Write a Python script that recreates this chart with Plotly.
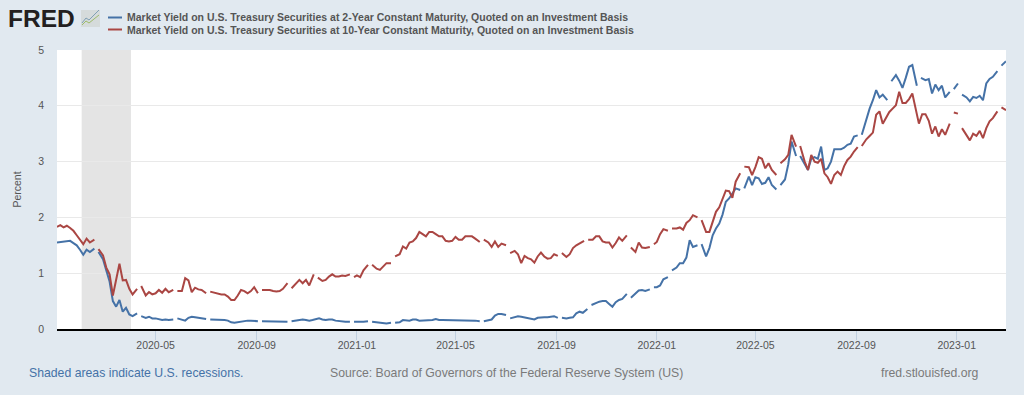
import pandas as pd
import plotly.graph_objects as go

N = None
BLOCK_STARTS = ["2020-01-02", "2020-05-01", "2020-09-01", "2021-01-01", "2021-05-01",
                "2021-09-01", "2022-01-01", "2022-05-01", "2022-09-01", "2023-01-01"]

Y2_2020A = [1.55,1.56,1.57,1.57,1.58,1.54,1.50,1.42,1.33,1.42,1.38,1.44,N,1.38,1.25,1.05,.85,.50,.40,.52,.31,.38,.26,.23,.28,N,.23,.20,.22,.19]
Y2_2020B = [.19,.17,.16,.17,.16,.17,N,.19,.16,.15,.20,.22,.21,.20,.19,.18,N,.17,.17,.17,.16,.16,.15,.12,.11,.12,.14,.15,.15,.15,.15]
Y2_2020C = [.14,N,.14,.14,.13,.13,.13,.13,.13,.13,N,.14,.15,.16,.17,.16,.15,.16,.17,.19,.17,.16,.17,.17,.15,.14,.13,.13,.13,N,.13]
Y2_2021A = [.13,.12,.13,.14,N,.13,.12,.11,.10,.10,.11,N,.11,.12,.16,.15,.15,.17,.17,.15,.15,.15,.15,.16,.18,.16,.16,.16,.15,.16]
Y2_2021B = [.16,.16,.16,.16,.15,.15,.15,.14,N,.14,.15,.17,.24,.27,.27,.25,N,.19,.22,.23,.22,.21,.19,.18,.17,.20,.21,.21,.21,.22,.23]
Y2_2021C = [.20,N,.20,.19,.20,.21,.28,.31,.29,.36,N,.43,.47,.49,.50,.50,.45,.40,.48,.52,.54,.63,N,.56,.63,.69,.70,.68,.71,N,.75]
Y2_2022A = [.75,.78,.89,.93,N,1.05,1.10,1.18,1.18,1.28,1.59,1.47,1.50,N,1.52,1.30,1.45,1.68,1.80,1.89,2.05,2.28,2.34,2.42,2.52,2.49,N,2.52,2.73,2.58]
Y2_2022B = [2.72,2.70,2.60,2.62,2.72,2.58,2.50,N,2.58,2.68,2.95,3.36,3.10,N,3.10,2.95,2.85,3.05,3.08,3.05,3.27,2.85,2.88,3.00,3.22,3.22,3.22,3.25,3.30,3.32,3.45]
Y2_2022C = [3.47,N,3.48,3.78,3.95,4.10,4.28,4.15,4.20,4.10,N,4.44,4.55,4.45,4.32,4.50,4.70,4.73,4.36,N,4.50,4.46,4.48,4.22,4.38,4.28,4.36,4.15,4.25,N,4.30]
Y2_2023A = [4.40,N,4.20,4.15,4.08,4.16,4.14,4.18,4.10,4.40,4.48,4.52,4.62,N,4.72,4.80]

Y10_2020A = [1.83,1.86,1.82,1.85,1.81,1.76,1.68,1.60,1.52,1.62,1.55,1.60,N,1.43,1.32,1.10,.98,.60,.90,1.17,.87,.88,.72,.62,.72,N,.77,.60,.66,.62]
Y10_2020B = [.64,.70,.65,.72,.66,.70,N,.68,.68,.91,.87,.66,.74,.71,.70,.64,N,.67,.65,.64,.62,.62,.58,.52,.52,.60,.70,.68,.64,.68,.75]
Y10_2020C = [.64,N,.70,.70,.70,.68,.67,.68,.72,.82,N,.73,.82,.88,.82,.88,.78,.98,N,.92,.86,.88,.94,.98,.94,.94,.96,.95,.98,N,.93]
Y10_2021A = [.96,.93,1.05,1.15,N,1.15,1.08,1.06,1.12,1.18,1.18,N,1.30,1.34,1.48,1.44,1.55,1.57,1.63,1.74,1.70,1.66,1.74,1.74,1.70,1.66,1.66,1.58,1.57,1.58]
Y10_2021B = [1.65,1.60,1.60,1.66,1.66,1.66,1.62,1.56,N,1.60,1.55,1.47,1.57,1.47,1.53,1.50,N,1.36,1.40,1.34,1.18,1.31,1.27,1.25,1.19,1.30,1.37,1.30,1.26,1.27,1.34]
Y10_2021C = [1.31,N,1.36,1.29,1.34,1.45,1.50,1.53,1.58,N,1.60,1.60,1.66,1.66,1.57,1.55,1.55,1.46,1.54,1.64,1.58,1.68,N,1.46,1.38,1.55,1.46,1.45,1.47,N,1.52]
Y10_2022A = [1.56,1.70,1.79,1.76,N,1.80,1.80,1.82,1.78,1.90,1.95,2.04,2.00,N,1.95,1.74,1.74,1.92,2.10,2.18,2.32,2.48,2.47,2.35,2.64,2.79,N,2.91,2.90,2.76]
Y10_2022B = [2.90,3.08,3.05,2.88,2.97,2.85,2.76,N,2.97,3.04,3.12,3.48,3.27,N,3.28,3.00,2.85,3.12,3.00,2.98,3.05,2.79,2.72,2.60,2.76,2.82,2.76,2.92,3.03,3.09,3.18]
Y10_2022C = [3.26,N,3.28,3.40,3.46,3.52,3.84,3.90,3.68,3.78,3.89,3.95,4.01,4.25,4.05,4.05,4.12,4.22,3.95,3.68,3.85,3.85,3.73,3.50,3.63,3.45,3.58,3.48,3.68,N,3.88]
Y10_2023A = [3.86,N,3.60,3.47,3.38,3.50,3.46,3.55,3.42,3.60,3.72,3.78,3.90,N,3.97,3.92]

Y2_BLOCKS = [Y2_2020A, Y2_2020B, Y2_2020C, Y2_2021A, Y2_2021B, Y2_2021C, Y2_2022A, Y2_2022B, Y2_2022C, Y2_2023A]
Y10_BLOCKS = [Y10_2020A, Y10_2020B, Y10_2020C, Y10_2021A, Y10_2021B, Y10_2021C, Y10_2022A, Y10_2022B, Y10_2022C, Y10_2023A]

NAME_2Y = "Market Yield on U.S. Treasury Securities at 2-Year Constant Maturity, Quoted on an Investment Basis"
NAME_10Y = "Market Yield on U.S. Treasury Securities at 10-Year Constant Maturity, Quoted on an Investment Basis"
RECESSION = ("2020-02-01", "2020-04-01")
X_RANGE = ("2020-01-02", "2023-03-02")


def expand(blocks):
    """Lay each block out at its sampling dates; the observations next to a
    missing one sit slightly closer to it, so a gap in the line stays narrow."""
    xs, ys = [], []
    for start, vals in zip(BLOCK_STARTS, blocks):
        dates = list(pd.date_range(start, periods=len(vals), freq="4D"))
        for i, v in enumerate(vals):
            d = dates[i]
            if v is not None:
                if i + 1 < len(vals) and vals[i + 1] is None:
                    d += pd.Timedelta(hours=36)
                elif i > 0 and vals[i - 1] is None:
                    d -= pd.Timedelta(hours=36)
            xs.append(d)
            ys.append(v)
    return xs, ys


BLUE, RED = "#4572A7", "#AA4643"
BG = "#E1E9F0"
FONT = "Liberation Sans, Arial, sans-serif"
W, H = 1024, 395
L, R, T, B = 57, 1006, 50, 329

fig = go.Figure()
for name, blocks, colour in ((NAME_2Y, Y2_BLOCKS, BLUE), (NAME_10Y, Y10_BLOCKS, RED)):
    x, y = expand(blocks)
    fig.add_trace(go.Scatter(x=x, y=y, mode="lines", name=name, connectgaps=False,
                             line=dict(color=colour, width=2), showlegend=False))


def px(v):
    return (v - L) / (R - L)


def py(v):
    return (B - v) / (B - T)


def polyline(points):
    return "M " + " L ".join("{} {}".format(px(a), py(b)) for a, b in points)


shapes = [
    dict(type="rect", xref="x", yref="paper", x0=RECESSION[0], x1=RECESSION[1], y0=0, y1=1,
         fillcolor="#E4E4E4", line_width=0, layer="below"),
    dict(type="line", xref="paper", yref="paper", x0=px(108), x1=px(122), y0=py(17.5), y1=py(17.5),
         line=dict(color=BLUE, width=2)),
    dict(type="line", xref="paper", yref="paper", x0=px(108), x1=px(122), y0=py(29.5), y1=py(29.5),
         line=dict(color=RED, width=2)),
    dict(type="rect", xref="paper", yref="paper", x0=px(81), x1=px(100), y0=py(27), y1=py(10),
         fillcolor="#D5DBDB", line_width=0),
    dict(type="path", xref="paper", yref="paper",
         path=polyline([(82, 23), (86, 18), (89, 20), (94, 15), (99, 10)]),
         line=dict(color="#7FA0B5", width=1)),
    dict(type="path", xref="paper", yref="paper",
         path=polyline([(82, 25), (86, 21), (89, 23), (94, 19), (99, 15)]),
         line=dict(color="#9DBB6A", width=1)),
]

annotations = [
    dict(text="<b>FRED</b>", x=px(6), y=py(18.5), xanchor="left", yanchor="middle", showarrow=False,
         font=dict(family=FONT, size=24.5, color="#231F20")),
    dict(text="<b>" + NAME_2Y + "</b>", x=px(125), y=py(17.3), xanchor="left", yanchor="middle", showarrow=False,
         font=dict(family=FONT, size=10.5, color="#555555")),
    dict(text="<b>" + NAME_10Y + "</b>", x=px(125), y=py(29.7), xanchor="left", yanchor="middle", showarrow=False,
         font=dict(family=FONT, size=10.5, color="#555555")),
    dict(text="Shaded areas indicate U.S. recessions.", x=px(27), y=py(373), xanchor="left", yanchor="middle",
         showarrow=False, font=dict(family=FONT, size=12.25, color="#4572A7")),
    dict(text="Source: Board of Governors of the Federal Reserve System (US)", x=px(328), y=py(373), xanchor="left",
         yanchor="middle", showarrow=False, font=dict(family=FONT, size=12.25, color="#7A7A7A")),
    dict(text="fred.stlouisfed.org", x=px(981), y=py(373), xanchor="right", yanchor="middle", showarrow=False,
         font=dict(family=FONT, size=12.25, color="#7A7A7A")),
]
for a in annotations:
    a.update(xref="paper", yref="paper")

fig.update_layout(
    width=W, height=H, autosize=False,
    paper_bgcolor=BG, plot_bgcolor="#FFFFFF",
    margin=dict(l=L, r=W - R, t=T, b=H - B, pad=0),
    font=dict(family=FONT, size=10.5, color="#555555"),
    shapes=shapes, annotations=annotations, showlegend=False,
    xaxis=dict(type="date", range=list(X_RANGE), tick0="2020-01-01", dtick="M4", tickformat="%Y-%m",
               showgrid=False, showline=True, linecolor="#000000", linewidth=2,
               ticks="outside", ticklen=9, tickcolor="#C0D0E0", tickwidth=1, ticklabelstandoff=-4,
               tickfont=dict(size=10.5, color="#555555"), zeroline=False),
    yaxis=dict(range=[0, 5], tick0=0, dtick=1, showgrid=True, gridcolor="#E9E9E9", gridwidth=1,
               zeroline=False, showline=False, ticks="", ticklabelstandoff=12,
               tickfont=dict(size=10.5, color="#555555"),
               title=dict(text="Percent", font=dict(size=10.5, color="#555555"), standoff=14)),
)
fig.write_html("out.html", config={"displayModeBar": False},
               post_script="document.body.style.margin='0';document.documentElement.style.overflow='hidden';")
